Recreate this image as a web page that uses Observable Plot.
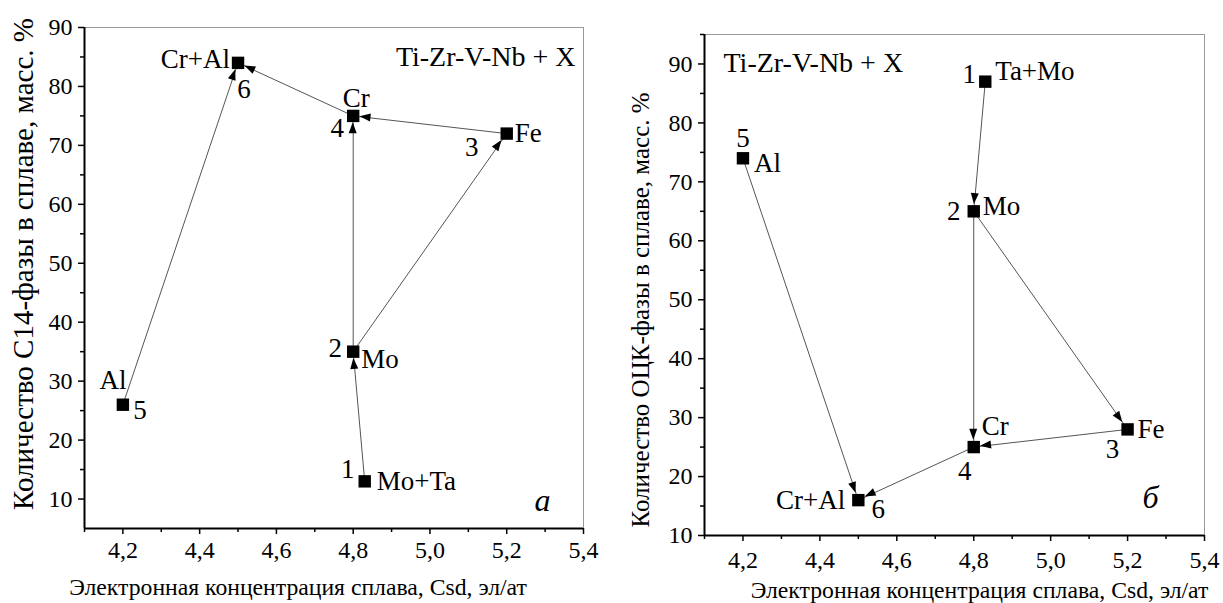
<!DOCTYPE html>
<html><head><meta charset="utf-8">
<script src="https://cdn.jsdelivr.net/npm/d3@7"></script>
<script src="https://cdn.jsdelivr.net/npm/@observablehq/plot@0.6"></script>
<style>
html,body{margin:0;padding:0;background:#fff;overflow:hidden;font-family:'Liberation Serif',serif}
#wrap{display:flex;width:1223px;height:603px}
</style></head><body><div id="wrap"></div>
<script>
// ---- data ----
const pointNumbers = [1, 2, 3, 4, 5, 6];
const namesA = ["Mo+Ta", "Mo", "Fe", "Cr", "Al", "Cr+Al"];
const csdA = [4.83, 4.80, 5.20, 4.80, 4.20, 4.50];
const phaseA = [13, 35, 72, 75, 26, 84];
const namesB = ["Ta+Mo", "Mo", "Fe", "Cr", "Al", "Cr+Al"];
const csdB = [4.83, 4.80, 5.20, 4.80, 4.20, 4.50];
const phaseB = [87, 65, 28, 25, 74, 16];
const arrowFrom = [1, 2, 2, 3, 4, 5];
const arrowTo = [2, 4, 3, 4, 6, 6];
const xTicks = [4.2, 4.4, 4.6, 4.8, 5.0, 5.2, 5.4];
const xMinorTicks = [4.1, 4.3, 4.5, 4.7, 4.9, 5.1, 5.3];
const yTicks = [10, 20, 30, 40, 50, 60, 70, 80, 90];
const yMinorTicksA = [15, 25, 35, 45, 55, 65, 75, 85];
const yMinorTicksB = [15, 25, 35, 45, 55, 65, 75, 85, 95];
const systemLabel = "Ti-Zr-V-Nb + X";
const xTitle = "Электронная концентрация сплава, Csd, эл/ат";
const yTitleA = "Количество С14-фазы в сплаве, масс. %";
const yTitleB = "Количество ОЦК-фазы в сплаве, масс. %";
const panelLetterA = "а";
const panelLetterB = "б";

// ---- label placement (style) ----
const nameOffA = [[12, 0, "start"], [8, 8, "start"], [8, 0, "start"], [3, -18, "middle"], [-10, -24, "middle"], [-8, -4, "end"]];
const numOffA = [[-17, -12], [-18, -3], [-35, 14], [-16, 12], [17, 6], [6, 26]];
const nameOffB = [[10, -10, "start"], [9, -5, "start"], [10, 0, "start"], [8, -21, "start"], [11, 5, "start"], [-13, 0, "end"]];
const numOffB = [[-16, -7], [-20, 0], [-15, 20], [-9, 24], [0, -20], [20, 9]];

const FONT = "Liberation Serif";
const fmt = d => d.toFixed(1).replace(".", ",");

function arrowHeads(xs, ys) {
  return (index, scales) => {
    const g = d3.create("svg:g");
    const h = 6.8, L = 11, W = 4;
    arrowFrom.forEach((a, k) => {
      const b = arrowTo[k];
      const x1 = scales.x(xs[a - 1]), y1 = scales.y(ys[a - 1]);
      const x2 = scales.x(xs[b - 1]), y2 = scales.y(ys[b - 1]);
      const dx = x2 - x1, dy = y2 - y1, len = Math.hypot(dx, dy);
      const ux = dx / len, uy = dy / len;
      const inset = h / Math.max(Math.abs(ux), Math.abs(uy));
      const tx = x2 - ux * inset, ty = y2 - uy * inset;
      const bx = tx - ux * L, by = ty - uy * L;
      const px = -uy * W, py = ux * W;
      g.append("path")
        .attr("d", `M${tx},${ty}L${bx + px},${by + py}L${bx - px},${by - py}Z`)
        .attr("fill", "black");
    });
    return g.node();
  };
}

function panel(cfg) {
  const {names, xs, ys, nameOff, numOff, width, mL, mR, mT, mB, yDomain, yMinor,
    yTitle, yTitleDx, yTitleDy, yTitleSize, xTitleDx, xTitleDy, xPad, letter, letterDx, letterDy,
    sysAnchor, sysDx, sysDy, sysTextAnchor} = cfg;
  const idx = d3.range(xs.length);
  const marks = [
    Plot.frame({stroke: "#999", strokeWidth: 1}),
    Plot.link(arrowFrom.map((a, k) => k), {
      x1: k => xs[arrowFrom[k] - 1], y1: k => ys[arrowFrom[k] - 1],
      x2: k => xs[arrowTo[k] - 1], y2: k => ys[arrowTo[k] - 1],
      stroke: "#555", strokeWidth: 1
    }),
    arrowHeads(xs, ys),
    Plot.dot(idx, {x: i => xs[i], y: i => ys[i], symbol: "square", r: 7, fill: "black", stroke: "none"})
  ];
  idx.forEach(i => {
    marks.push(Plot.text([i], {x: d => xs[d], y: d => ys[d], text: d => names[d],
      dx: nameOff[i][0], dy: nameOff[i][1], textAnchor: nameOff[i][2], lineAnchor: "middle",
      fontSize: 27, fontFamily: FONT, fill: "black"}));
    marks.push(Plot.text([i], {x: d => xs[d], y: d => ys[d], text: d => String(pointNumbers[d]),
      dx: numOff[i][0], dy: numOff[i][1], textAnchor: "middle", lineAnchor: "middle",
      fontSize: 27, fontFamily: FONT, fill: "black"}));
  });
  marks.push(
    Plot.text([systemLabel], {frameAnchor: sysAnchor, textAnchor: sysTextAnchor, lineAnchor: "middle",
      dx: sysDx, dy: sysDy, fontSize: 28, fontFamily: FONT, fill: "black"}),
    Plot.text([letter], {frameAnchor: "bottom-right", textAnchor: "middle", lineAnchor: "middle",
      dx: letterDx, dy: letterDy, fontSize: 32, fontFamily: FONT, fontStyle: "italic", fill: "black"}),
    Plot.axisX({ticks: xTicks, tickSize: 6, tickPadding: xPad, tickFormat: fmt, fontSize: 24, fontFamily: FONT, color: "black", strokeWidth: 1.5, label: null}),
    Plot.axisX({ticks: xMinorTicks, tickSize: 4, tickFormat: () => "", color: "black", strokeWidth: 1.5, label: null}),
    Plot.axisY({ticks: yTicks, tickSize: 6, tickPadding: 6, tickFormat: d => String(d), fontSize: 24, fontFamily: FONT, color: "black", strokeWidth: 1.5, label: null}),
    Plot.axisY({ticks: yMinor, tickSize: 4, tickFormat: () => "", color: "black", strokeWidth: 1.5, label: null}),
    Plot.ruleX([4.1], {stroke: "black", strokeWidth: 2}),
    Plot.ruleY([yDomain[0]], {stroke: "black", strokeWidth: 2}),
    Plot.text([yTitle], {frameAnchor: "left", textAnchor: "middle", lineAnchor: "middle", rotate: -90,
      dx: yTitleDx, dy: yTitleDy, fontSize: yTitleSize, fontFamily: FONT, fill: "black"}),
    Plot.text([xTitle], {frameAnchor: "bottom", textAnchor: "middle", lineAnchor: "middle",
      dx: xTitleDx, dy: xTitleDy, fontSize: 23.7, fontFamily: FONT, fill: "black"})
  );
  const svg = Plot.plot({
    width, height: 603,
    marginLeft: mL, marginRight: mR, marginTop: mT, marginBottom: mB,
    x: {domain: [4.1, 5.4], label: null},
    y: {domain: yDomain, label: null},
    marks
  });
  svg.setAttribute("font-family", FONT);
  svg.style.fontFamily = "'Liberation Serif', serif";
  svg.querySelectorAll("text").forEach(t => t.style.fontFamily = "'Liberation Serif', serif");
  return svg;
}

const wrap = document.getElementById("wrap");
wrap.append(panel({
  names: namesA, xs: csdA, ys: phaseA, nameOff: nameOffA, numOff: numOffA,
  width: 612, mL: 84, mR: 29, mT: 27, mB: 75, yDomain: [5, 90], yMinor: yMinorTicksA,
  yTitle: yTitleA, yTitleDx: -61, yTitleDy: -14, yTitleSize: 29,
  xTitleDx: -36, xTitleDy: 59, xPad: 6, letter: panelLetterA, letterDx: -41, letterDy: -28,
  sysAnchor: "top-right", sysTextAnchor: "end", sysDx: -8, sysDy: 30
}));
wrap.append(panel({
  names: namesB, xs: csdB, ys: phaseB, nameOff: nameOffB, numOff: numOffB,
  width: 611, mL: 92, mR: 19, mT: 34, mB: 68, yDomain: [10, 95], yMinor: yMinorTicksB,
  yTitle: yTitleB, yTitleDx: -64, yTitleDy: 25, yTitleSize: 25,
  xTitleDx: 25, xTitleDy: 55, xPad: 9, letter: panelLetterB, letterDx: -54, letterDy: -38,
  sysAnchor: "top-left", sysTextAnchor: "start", sysDx: 19, sysDy: 29
}));
</script></body></html>
